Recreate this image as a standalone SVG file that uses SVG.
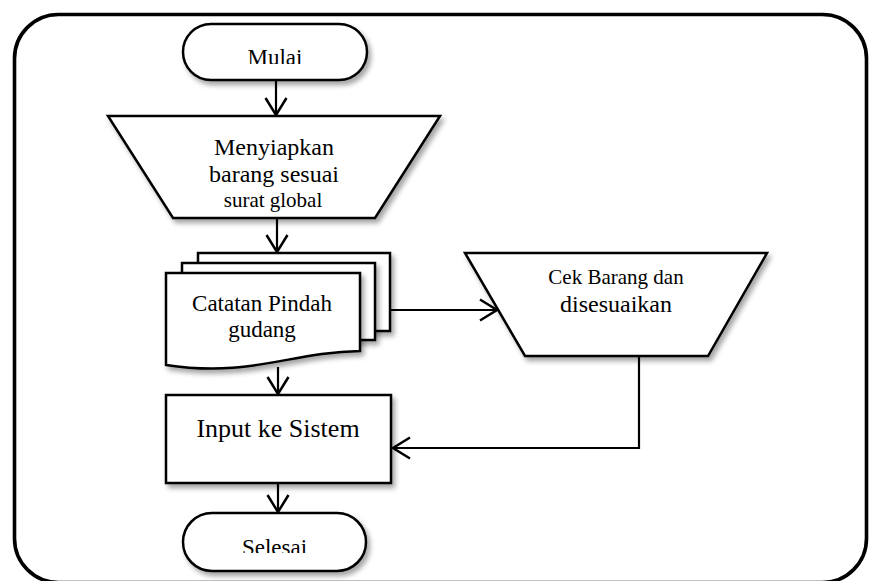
<svg xmlns="http://www.w3.org/2000/svg" width="869" height="581" viewBox="0 0 869 581">
  <style>
    .shape { fill: #ffffff; stroke: #000000; stroke-width: 2.5; stroke-linejoin: miter; }
    .label { font-family: "Liberation Serif", "Times New Roman", serif; fill: #000000; text-anchor: middle; }
    .conn { fill: none; stroke: #000000; stroke-width: 2.2; }
  </style>
  <defs>
    <filter id="shadow" x="-10%" y="-10%" width="130%" height="140%">
      <feDropShadow dx="3" dy="4" stdDeviation="2.5" flood-color="#000000" flood-opacity="0.35"/>
    </filter>
    <marker id="arrow" markerUnits="userSpaceOnUse" markerWidth="24" markerHeight="24" viewBox="0 0 24 24" refX="22" refY="12" orient="auto">
      <path d="M5,1.5 L22,12 L5,22.5" fill="none" stroke="#000000" stroke-width="2.5"/>
    </marker>
    <clipPath id="clipStart"><rect x="183" y="24" width="184" height="40"/></clipPath>
    <clipPath id="clipEnd"><rect x="183" y="513" width="184" height="40"/></clipPath>
  </defs>

  <rect width="869" height="581" fill="#ffffff"/>

  <!-- outer frame -->
  <rect x="14.5" y="14.5" width="852" height="568" rx="44" ry="44" fill="none" stroke="#000000" stroke-width="3.6"/>

  <g id="connectors">
    <path class="conn" d="M276,80 V115" marker-end="url(#arrow)"/>
    <path class="conn" d="M277,218 V252" marker-end="url(#arrow)"/>
    <path class="conn" d="M391,310 H497" marker-end="url(#arrow)"/>
    <path class="conn" d="M278,367 V394" marker-end="url(#arrow)"/>
    <path class="conn" d="M639,356 V448 H393" marker-end="url(#arrow)"/>
    <path class="conn" d="M278,484 V512" marker-end="url(#arrow)"/>
  </g>

  <g id="mulai">
    <rect class="shape" x="183" y="24" width="184" height="56" rx="28" ry="28" filter="url(#shadow)"/>
    <text class="label" x="275" y="65" font-size="23" clip-path="url(#clipStart)">Mulai</text>
  </g>

  <g id="menyiapkan">
    <polygon class="shape" points="108,116 440,116 375,218 173,218" filter="url(#shadow)"/>
    <text class="label" x="274" y="155" font-size="24">Menyiapkan</text>
    <text class="label" x="274" y="182" font-size="24">barang sesuai</text>
    <text class="label" x="273" y="207" font-size="21">surat global</text>
  </g>

  <g id="catatan">
    <rect class="shape" x="198" y="253" width="192" height="78" filter="url(#shadow)"/>
    <rect class="shape" x="182" y="263" width="193" height="77" filter="url(#shadow)"/>
    <path class="shape" d="M166,273 H360 V351 C290,352 250,378 166,365 Z" filter="url(#shadow)"/>
    <text class="label" x="262" y="311" font-size="23">Catatan Pindah</text>
    <text class="label" x="262" y="337" font-size="23">gudang</text>
  </g>

  <g id="cek">
    <polygon class="shape" points="465,253 767,253 708,356 525,356" filter="url(#shadow)"/>
    <text class="label" x="616" y="284" font-size="21">Cek Barang dan</text>
    <text class="label" x="616" y="312" font-size="24">disesuaikan</text>
  </g>

  <g id="input">
    <rect class="shape" x="166" y="395" width="225" height="88" filter="url(#shadow)"/>
    <text class="label" x="278" y="437" font-size="26">Input ke Sistem</text>
  </g>

  <g id="selesai">
    <rect class="shape" x="183" y="513" width="183" height="58" rx="29" ry="29" filter="url(#shadow)"/>
    <text class="label" x="274.5" y="555" font-size="23" clip-path="url(#clipEnd)">Selesai</text>
  </g>
</svg>
